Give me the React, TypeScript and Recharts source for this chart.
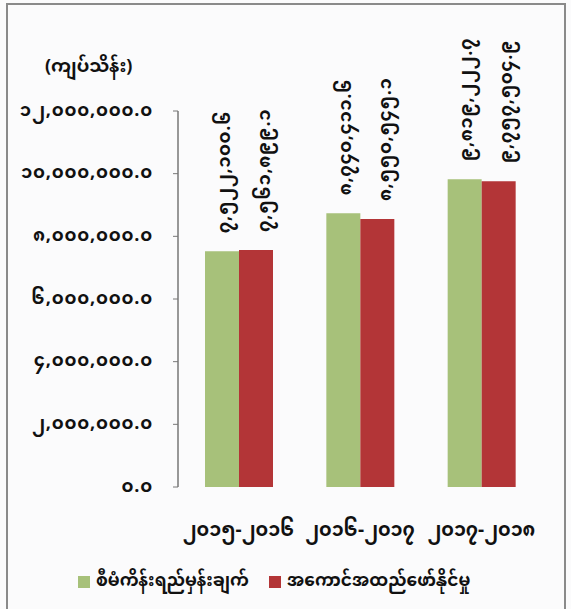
import React from "react";
import { BarChart, Bar, XAxis, YAxis, Legend, LabelList } from "recharts";

const categories = ["၂၀၁၅-၂၀၁၆", "၂၀၁၆-၂၀၁၇", "၂၀၁၇-၂၀၁၈"];
const targetValues = [7522100.6, 8740411.6, 9819222.7];
const actualValues = [7561899.1, 8550545.1, 9757504.9];
const yTicks = [0, 2000000, 4000000, 6000000, 8000000, 10000000, 12000000];
const edgeTicks = [0, 1, 2, 3];
const seriesNames = ["စီမံကိန်းရည်မှန်းချက်", "အကောင်အထည်ဖော်နိုင်မှု"];
const unitLabel = "(ကျပ်သိန်း)";

const GREEN = "#a7c17a";
const RED = "#b33537";
const FONT = "'Noto Sans Myanmar', 'Padauk', 'Myanmar Text', 'Noto Sans', sans-serif";

const MM = "၀၁၂၃၄၅၆၇၈၉";
const toMM = (n: number) =>
  n
    .toLocaleString("en-US", { minimumFractionDigits: 1, maximumFractionDigits: 1 })
    .replace(/\d/g, (d) => MM[+d]);

const data = categories.map((c, i) => ({
  name: c,
  target: targetValues[i],
  actual: actualValues[i],
}));

const makeLabel = (dx: number) => (props: any) => {
  const { x, y, width, value } = props;
  const cx = x + width / 2 + dx;
  const cy = y - 18;
  return (
    <text
      transform={`translate(${cx}, ${cy}) rotate(-90)`}
      textAnchor="start"
      dominantBaseline="central"
      fontSize={18}
      fontWeight={700}
      letterSpacing={0.6}
      fill="#111"
      fontFamily={FONT}
    >
      {toMM(value)}
    </text>
  );
};

const YTick = (props: any) => {
  const { x, y, payload } = props;
  return (
    <text
      x={x - 18}
      y={y}
      textAnchor="end"
      dominantBaseline="central"
      fontSize={18}
      fontWeight={700}
      letterSpacing={0.8}
      fill="#111"
      fontFamily={FONT}
    >
      {toMM(payload.value)}
    </text>
  );
};

const XTick = (props: any) => {
  const { x, y, payload } = props;
  return (
    <text
      x={x}
      y={y + 36}
      textAnchor="middle"
      dominantBaseline="central"
      fontSize={19}
      fontWeight={700}
      fill="#111"
      fontFamily={FONT}
    >
      {payload.value}
    </text>
  );
};

const LegendContent = (props: any) => {
  const { payload } = props;
  return (
    <div
      style={{
        display: "flex",
        justifyContent: "flex-start",
        alignItems: "center",
        paddingLeft: 78,
        fontFamily: FONT,
        fontWeight: 700,
        fontSize: 17,
        lineHeight: "24px",
        color: "#111",
      }}
    >
      {(payload || []).map((p: any, i: number) => (
        <div key={i} style={{ display: "flex", alignItems: "center", marginRight: 20 }}>
          <span
            style={{
              display: "inline-block",
              width: 12,
              height: 12,
              background: p.color,
              marginRight: 6,
            }}
          />
          <span>{p.value}</span>
        </div>
      ))}
    </div>
  );
};

export default function App() {
  return (
    <div
      style={{
        position: "absolute",
        left: 0,
        top: 0,
        width: 571,
        height: 609,
        background: "#fbfbfc",
        overflow: "hidden",
      }}
    >
      <div
        style={{
          position: "absolute",
          left: 6,
          top: 3,
          width: 560,
          height: 640,
          border: "2px solid #8a8a8a",
          boxSizing: "border-box",
        }}
      />
      <div
        style={{
          position: "absolute",
          left: 45,
          top: 48,
          fontFamily: FONT,
          fontWeight: 700,
          fontSize: 18,
          color: "#111",
        }}
      >
        {unitLabel}
      </div>
      <div style={{ position: "absolute", left: 0, top: 0 }}>
        <BarChart
          width={571}
          height={609}
          data={data}
          margin={{ top: 111, right: 29, bottom: 62, left: 0 }}
          barGap={0}
        >
          <XAxis
            xAxisId="edge"
            type="number"
            domain={[0, 3]}
            ticks={edgeTicks}
            height={0}
            tick={false}
            tickSize={9}
            axisLine={{ stroke: "#777", strokeWidth: 1.5 }}
            tickLine={{ stroke: "#777", strokeWidth: 1.5 }}
          />
          <XAxis
            dataKey="name"
            axisLine={false}
            tickLine={false}
            tick={<XTick />}
            height={60}
            interval={0}
          />
          <YAxis
            width={178}
            domain={[0, 12000000]}
            ticks={yTicks}
            tick={<YTick />}
            tickSize={5}
            axisLine={{ stroke: "#777", strokeWidth: 1.5 }}
            tickLine={{ stroke: "#777", strokeWidth: 1 }}
            interval={0}
          />
          <Legend
            verticalAlign="middle"
            layout="horizontal"
            align="center"
            content={<LegendContent />}
            wrapperStyle={{ left: 0, top: 570, width: 571 }}
          />
          <Bar dataKey="target" name={seriesNames[0]} fill={GREEN} barSize={34} isAnimationActive={false}>
            <LabelList dataKey="target" content={makeLabel(3)} />
          </Bar>
          <Bar dataKey="actual" name={seriesNames[1]} fill={RED} barSize={34} isAnimationActive={false}>
            <LabelList dataKey="actual" content={makeLabel(9)} />
          </Bar>
        </BarChart>
      </div>
    </div>
  );
}
